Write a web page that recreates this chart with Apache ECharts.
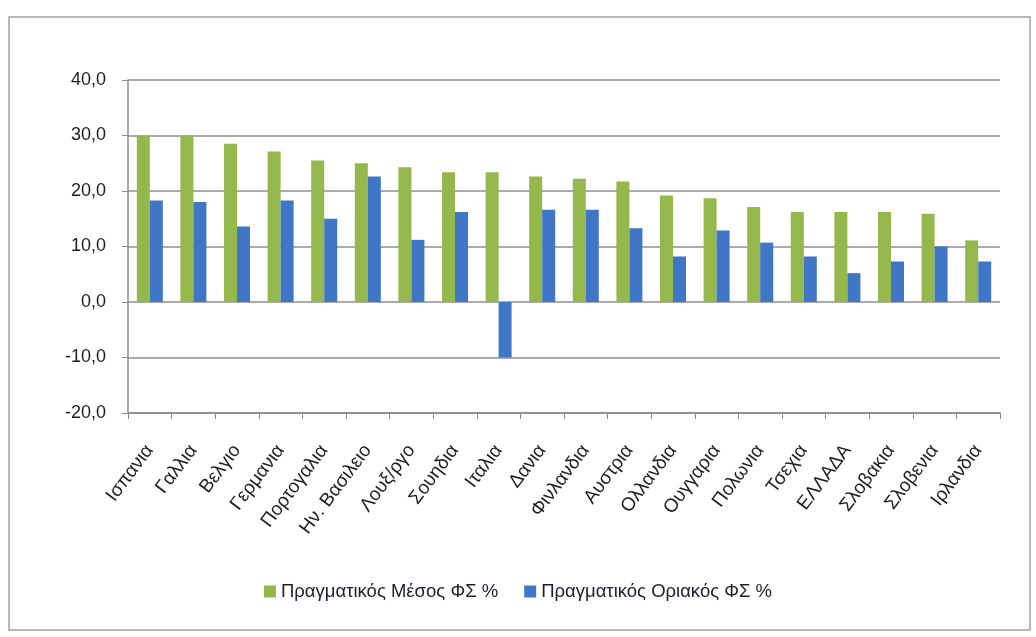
<!DOCTYPE html>
<html>
<head>
<meta charset="utf-8">
<script src="https://cdn.jsdelivr.net/npm/echarts@6/dist/echarts.min.js"></script>
<style>
html,body{margin:0;padding:0;background:#fff;}
#c{width:1036px;height:637px;}
</style>
</head>
<body>
<div id="c"></div>
<script>
const categories = ["Ισπανια","Γαλλια","Βελγιο","Γερμανια","Πορτογαλια","Ην. Βασιλειο","Λουξ/ργο","Σουηδια","Ιταλια","Δανια","Φινλανδια","Αυστρια","Ολλανδια","Ουγγαρια","Πολωνια","Τσεχια","ΕΛΛΑΔΑ","Σλοβακια","Σλοβενια","Ιρλανδια"];
const meanRate = [30.0,30.0,28.5,27.1,25.5,25.0,24.3,23.4,23.4,22.6,22.2,21.7,19.2,18.7,17.1,16.2,16.2,16.2,15.9,11.1];
const marginalRate = [18.3,18.0,13.6,18.3,15.0,22.6,11.2,16.2,-10.0,16.6,16.6,13.3,8.2,12.9,10.7,8.2,5.2,7.3,10.0,7.3];
const seriesNames = ["Πραγματικός Μέσος ΦΣ %","Πραγματικός Οριακός ΦΣ %"];

const chart = echarts.init(document.getElementById('c'));
const font = 'Liberation Sans, Arial, sans-serif';
chart.setOption({
  animation:false,
  backgroundColor:'#fff',
  graphic:[{type:'rect',shape:{x:9,y:17,width:1021,height:613},style:{fill:'none',stroke:'#b8b8b8',lineWidth:2},silent:true}],
  grid:{left:128,right:36,top:80,bottom:224},
  legend:{
    bottom:31,left:'center',itemWidth:12,itemHeight:12,itemGap:26,
    icon:'rect',
    textStyle:{fontFamily:font,fontSize:18.5,color:'#1e1e2e'},
    data:seriesNames
  },
  xAxis:{
    type:'category',data:categories,
    axisLine:{onZero:false,lineStyle:{color:'#8c8c8c',width:1.5}},
    axisTick:{show:true,length:6,lineStyle:{color:'#8c8c8c'}},
    axisLabel:{rotate:53,margin:34,fontFamily:font,fontSize:19,color:'#1e1e1e',interval:0}
  },
  yAxis:{
    type:'value',min:-20,max:40,interval:10,
    axisLine:{show:true,lineStyle:{color:'#8c8c8c',width:1.5}},
    axisTick:{show:true,length:6,lineStyle:{color:'#8c8c8c'}},
    splitLine:{lineStyle:{color:'#8f8f8f',width:1.5}},
    axisLabel:{margin:22,fontFamily:font,fontSize:18,color:'#1e1e1e',
      formatter:v=>v.toFixed(1).replace('.',',')}
  },
  series:[
    {name:seriesNames[0],type:'bar',data:meanRate,barWidth:13,barGap:'0%',itemStyle:{color:'#94b84b'}},
    {name:seriesNames[1],type:'bar',data:marginalRate,barWidth:13,barGap:'0%',itemStyle:{color:'#3f76c6'}}
  ]
});
</script>
</body>
</html>
